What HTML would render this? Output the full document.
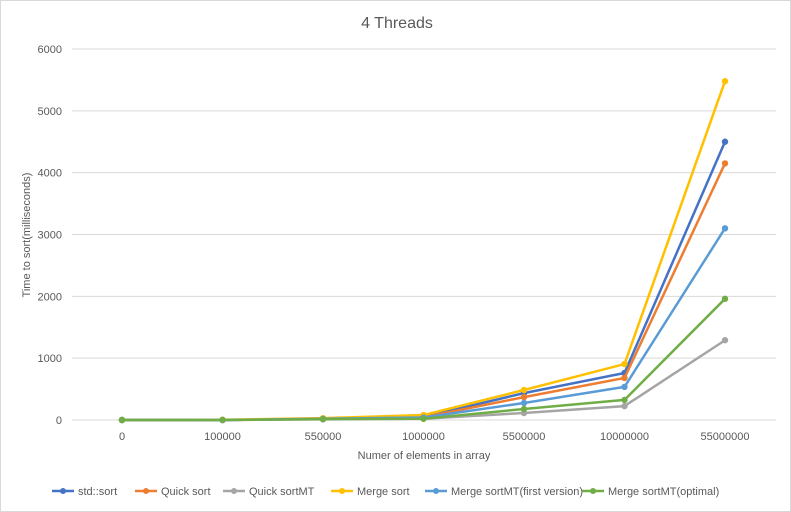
<!DOCTYPE html>
<html><head><meta charset="utf-8"><style>
body{margin:0;background:#fff;}
svg{display:block;font-family:"Liberation Sans",sans-serif;}
</style></head><body>
<svg id="chart" width="791" height="512" xmlns="http://www.w3.org/2000/svg">
<rect x="0.5" y="0.5" width="790" height="511" fill="#fff" stroke="#d9d9d9"/>
<text x="397" y="28" text-anchor="middle" font-size="16" fill="#595959">4 Threads</text>
<text transform="translate(30,235) rotate(-90)" text-anchor="middle" font-size="11" fill="#595959">Time to sort(milliseconds)</text>
<text x="424" y="459" text-anchor="middle" font-size="11" fill="#595959">Numer of elements in array</text>
<g id="grid"></g><g id="series"></g><g id="legend"></g>
</svg>
<script>
const categories=["0","100000","550000","1000000","5500000","10000000","55000000"];
const yTicks=[0,1000,2000,3000,4000,5000,6000];
const seriesNames=["std::sort","Quick sort","Quick sortMT","Merge sort","Merge sortMT(first version)","Merge sortMT(optimal)"];
const stdSort=[0,0,20,50,435,760,4500];
const quickSort=[0,0,20,45,370,680,4150];
const quickSortMT=[0,0,10,20,113,225,1290];
const mergeSort=[0,5,30,80,485,905,5480];
const mergeSortMTFirst=[0,0,20,40,275,535,3100];
const mergeSortMTOptimal=[0,0,15,20,178,325,1960];
const allSeries=[stdSort,quickSort,quickSortMT,mergeSort,mergeSortMTFirst,mergeSortMTOptimal];
const colors=["#4472c4","#ed7d31","#a5a5a5","#ffc000","#5b9bd5","#70ad47"];
const NS="http://www.w3.org/2000/svg";
const x0=122,dx=100.5,y0=420,yTop=49,yMax=6000;
const xs=i=>x0+i*dx;
const ys=v=>y0-(v/yMax)*(y0-yTop);
function mk(tag,attrs,parent){const e=document.createElementNS(NS,tag);for(const k in attrs)e.setAttribute(k,attrs[k]);parent.appendChild(e);return e;}
const grid=document.getElementById('grid');
yTicks.forEach(t=>{
 const l=mk('line',{x1:72,x2:776,y1:ys(t),y2:ys(t),stroke:t===0?'#d9d9d9':'#d9d9d9','stroke-width':1},grid);
 
 
 const tx=mk('text',{x:62,y:ys(t)+4,'text-anchor':'end','font-size':11,fill:'#595959'},grid);
 tx.textContent=t;
 
 
});
categories.forEach((c,i)=>{
 const tx=mk('text',{x:xs(i),y:440,'text-anchor':'middle','font-size':11,fill:'#595959'},grid);
 tx.textContent=c;
 
 
});
const sg=document.getElementById('series');
allSeries.forEach((s,si)=>{
 const g=mk('g',{},sg);
 
 
 mk('polyline',{points:s.map((v,i)=>xs(i)+','+ys(v)).join(' '),fill:'none',stroke:colors[si],'stroke-width':2.5,'stroke-linejoin':'round'},g);
 s.forEach((v,i)=>{
  const c=mk('circle',{cx:xs(i),cy:ys(v),r:3.2,fill:colors[si]},g);
  
  
 });
});
const lg=document.getElementById('legend');
const lx=[52,135,223,331,425,582];
seriesNames.forEach((n,i)=>{
 const g=mk('g',{},lg);
 
 
 mk('line',{x1:lx[i],x2:lx[i]+22,y1:491,y2:491,stroke:colors[i],'stroke-width':2.5},g);
 mk('circle',{cx:lx[i]+11,cy:491,r:3,fill:colors[i]},g);
 const t=mk('text',{x:lx[i]+26,y:495,'font-size':11,fill:'#595959'},g);
 t.textContent=n;
});
</script>
</body></html>
